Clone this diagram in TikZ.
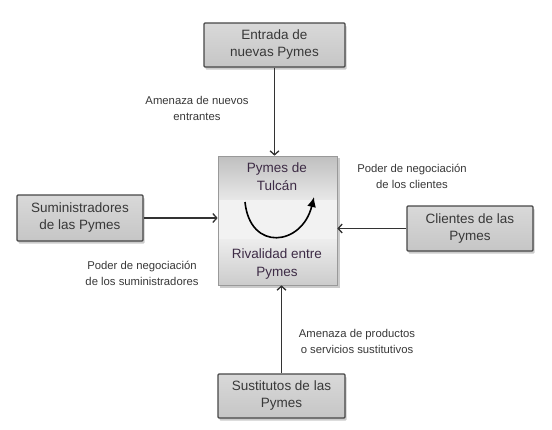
\documentclass[tikz,border=0pt]{standalone}
\usepackage{fontspec}
\setmainfont{Liberation Sans}
\usetikzlibrary{arrows.meta,shadows,calc}
\definecolor{ctxt}{HTML}{3D2B45}
\begin{document}
\begin{tikzpicture}[x=1pt,y=-1pt,
 box/.style={draw=black!72, line width=1.2pt, rounded corners=1pt, top color=gray!30, middle color=gray!10, bottom color=gray!45, text=black!78,
   font=\fontsize{13.5}{17}\selectfont, align=center, inner sep=0pt,
   drop shadow={shadow xshift=1.5pt, shadow yshift=-2.5pt, fill=black!45, opacity=0.45}},
 lbl/.style={text=black!78, font=\fontsize{11.3}{16}\selectfont, align=center, inner sep=0pt},
 ctext/.style={text=ctxt, font=\fontsize{13.5}{18}\selectfont, align=center, inner sep=0pt},
 conn/.style={draw=black!80, line width=1.3pt, -{Straight Barb[length=4pt,width=9pt,line width=1.3pt]}}]
\fill[white] (0,0) rectangle (552,429);
\useasboundingbox (0,0) rectangle (552,429);
% central box
\fill[black!45, opacity=0.45] (219.5,158) rectangle (339.5,287.5);
\shade[top color=gray!50, bottom color=gray!18] (218,156) rectangle (337,200);
\fill[gray!10] (218,200) rectangle (337,239);
\shade[top color=gray!14, bottom color=gray!40] (218,239) rectangle (337,285);
\node[draw=gray!80, line width=0.7pt, minimum width=119pt, minimum height=129pt, inner sep=0pt] (c) at (277.5,220.5) {};
\node[ctext] (t1) at (277,177) {Pymes de\\Tulcán};
\node[ctext] (t2) at (277,264) {Rivalidad entre\\Pymes};
\coordinate (u1) at (245,202);
\coordinate (u2) at (314,197);
\draw[black, line width=1.6pt, -{Latex[length=10pt,width=9pt]}] (u1) .. controls (250,252) and (302,246) .. (u2);
% outer boxes
\node[box, minimum width=141pt, minimum height=44pt] (top) at (274.5,45) {Entrada de\\nuevas Pymes};
\node[box, minimum width=126pt, minimum height=46pt] (left) at (80,218) {Suministradores\\de las Pymes};
\node[box, minimum width=126pt, minimum height=45pt] (right) at (470,228.5) {Clientes de las\\Pymes};
\node[box, minimum width=127pt, minimum height=44pt] (bot) at (281.5,396) {Sustitutos de las\\Pymes};
% connectors
\draw[conn] (top.south) -- (top.south |- c.north);
\draw[conn] (bot.north) -- (bot.north |- c.south);
\draw[conn] (left.east) -- (left.east -| c.west);
\draw[conn] (right.west) -- (right.west -| c.east);
% labels
\node[lbl] (l1) at (197,108) {Amenaza de nuevos\\entrantes};
\node[lbl] (l2) at (412,176) {Poder de negociación\\de los clientes};
\node[lbl] (l3) at (142,273) {Poder de negociación\\de los suministradores};
\node[lbl] (l4) at (357,341) {Amenaza de productos\\o servicios sustitutivos};
\end{tikzpicture}
\end{document}
